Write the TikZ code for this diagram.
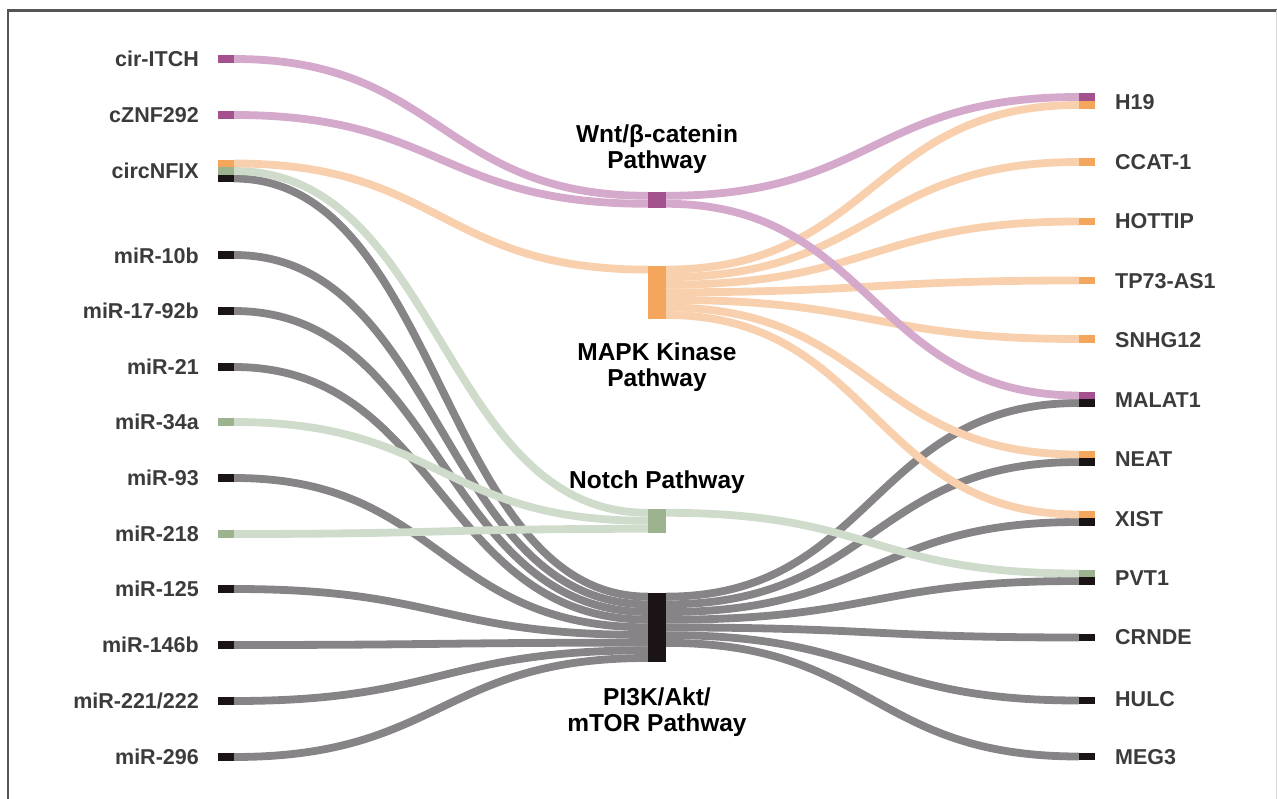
\documentclass[tikz,border=0pt]{standalone}
\usepackage{fontspec}
\setmainfont{Liberation Sans}
\usetikzlibrary{calc}

\definecolor{purpN}{HTML}{A4528E}
\definecolor{purpF}{HTML}{D4A9CB}
\definecolor{orgN}{HTML}{F3A65C}
\definecolor{orgF}{HTML}{F9D0AE}
\definecolor{grnN}{HTML}{9DB28F}
\definecolor{grnF}{HTML}{D0DCCB}
\definecolor{blkN}{HTML}{1B1416}
\definecolor{gryF}{HTML}{868486}
\definecolor{txt}{HTML}{3B3B3B}
\definecolor{frm}{HTML}{555555}

\tikzset{
  endbox/.style={rectangle, inner sep=0, minimum width=16, minimum height=7.8},
  bar/.style={rectangle, inner sep=0, minimum width=18},
  flow/.style={line width=7.8},
  llabel/.style={anchor=east, text=txt, font=\fontsize{21.5}{24}\selectfont\bfseries,
    inner sep=0, text height=15.5, text depth=0},
  rlabel/.style={llabel, anchor=west},
  plabel/.style={align=center, font=\fontsize{24.5}{26}\selectfont\bfseries, text=black, inner sep=0}
}

\begin{document}
\begin{tikzpicture}[x=1pt, y=-1pt]
	    \useasboundingbox (0,0) rectangle (1277,799);
	    % frame
	    \draw[line width=2.5, frm] (8,799) -- (8,10.5) -- (1276.5,10.5);
	    \draw[line width=1, black!15] (1276.5,10.5) -- (1276.5,799);

	    % left ends
	    \foreach \n/\y/\c in {itch/59/purpN, znf/115/purpN, nfixO/163.5/orgN, nfixG/171/grnN, nfixK/178.5/blkN,
	        mir10b/255/blkN, mir1792/311/blkN, mir21/367/blkN, mir34a/422/grnN, mir93/478/blkN,
	        mir218/534/grnN, mir125/589/blkN, mir146b/645/blkN, mir221/701/blkN, mir296/757/blkN}
		\node[endbox, fill=\c] (\n) at (226,\y) {};
	    \foreach \n/\y/\t in {itch/59/cir-ITCH, znf/115/cZNF292, nfix/171/circNFIX, mir10b/256/miR-10b,
	        mir1792/311/miR-17-92b, mir21/367/miR-21, mir34a/422/miR-34a, mir93/478/miR-93,
	        mir218/534/miR-218, mir125/589/miR-125, mir146b/645/miR-146b, mir221/701/{miR-221/222},
	        mir296/757/miR-296}
		\node[llabel] (t-\n) at (199,\y) {\t};

	    % right ends
	    \foreach \n/\y/\c in {h19P/97/purpN, h19O/105/orgN, ccat/162/orgN, hottip/221.5/orgN, tp73/280.5/orgN,
	        snhg/339/orgN, malatP/395.5/purpN, malatK/403/blkN, neatO/454.5/orgN, neatK/462/blkN,
	        xistO/514.5/orgN, xistK/522/blkN, pvtG/573.5/grnN, pvtK/581/blkN, crnde/637.5/blkN,
	        hulc/700.5/blkN, meg/756.5/blkN}
		\node[endbox, fill=\c] (\n) at (1087,\y) {};
	    \foreach \n/\y/\t in {h19/102/H19, ccat/162/CCAT-1, hottip/221/HOTTIP, tp73/281/TP73-AS1,
	        snhg/340/SNHG12, malat/400/MALAT1, neat/459/NEAT, xist/519/XIST, pvt/578/PVT1,
	        crnde/637/CRNDE, hulc/699/HULC, meg/757/MEG3}
		\node[rlabel] (t-\n) at (1115,\y) {\t};

	    % pathways
	    \node[bar, fill=purpN, minimum height=16] (wnt) at (657,200) {};
	    \node[bar, fill=orgN, minimum height=53] (mapk) at (657,292.5) {};
	    \node[bar, fill=grnN, minimum height=24] (notch) at (657,521) {};
	    \node[bar, fill=blkN, minimum height=69] (pik) at (657,627.5) {};
	    \node[plabel] (t-wnt) at (657,149.5) {Wnt/β-catenin\\Pathway};
	    \node[plabel] (t-mapk) at (657,367) {MAPK Kinase\\Pathway};
	    \node[plabel] (t-notch) at (657,482) {Notch Pathway};
	    \node[plabel] (t-pik) at (657,712) {PI3K/Akt/\\mTOR Pathway};

	    % PI3K/Akt/mTOR
	    \foreach \s/\k in {nfixK/0, mir10b/1, mir1792/2, mir21/3, mir93/4, mir125/5, mir146b/6, mir221/7, mir296/8}
		\draw[flow, gryF] (\s.east) .. controls +(207,0) and +(-207,0) .. ($(pik.north west)+(0,{(\k+0.5)*7.67})$);
	    \foreach \d/\k in {malatK/0, neatK/1, xistK/2, pvtK/3, crnde/4, hulc/5, meg/6}
		\draw[flow, gryF] ($(pik.north east)+(0,{(\k+0.5)*7.7})$) .. controls +(207,0) and +(-207,0) .. (\d.west);

	    % Notch
	    \foreach \s/\k in {nfixG/0, mir34a/1, mir218/2}
		\draw[flow, grnF] (\s.east) .. controls +(207,0) and +(-207,0) .. ($(notch.north west)+(0,{(\k+0.5)*8})$);
	    \draw[flow, grnF] ($(notch.north east)+(0,4)$) .. controls +(207,0) and +(-207,0) .. (pvtG.west);

	    % MAPK
	    \draw[flow, orgF] (nfixO.east) .. controls +(207,0) and +(-207,0) .. ($(mapk.north west)+(0,3.8)$);
	    \foreach \d/\k in {h19O/0, ccat/1, hottip/2, tp73/3, snhg/4, neatO/5, xistO/6}
		\draw[flow, orgF] ($(mapk.north east)+(0,{(\k+0.5)*7.57})$) .. controls +(207,0) and +(-207,0) .. (\d.west);

	    % Wnt
	    \draw[flow, purpF] (itch.east) .. controls +(207,0) and +(-207,0) .. ($(wnt.north west)+(0,4)$);
	    \draw[flow, purpF] (znf.east) .. controls +(207,0) and +(-207,0) .. ($(wnt.north west)+(0,12)$);
	    \draw[flow, purpF] ($(wnt.north east)+(0,4)$) .. controls +(207,0) and +(-207,0) .. (h19P.west);
	    \draw[flow, purpF] ($(wnt.north east)+(0,12)$) .. controls +(207,0) and +(-207,0) .. (malatP.west);
	\end{tikzpicture}
\end{document}
